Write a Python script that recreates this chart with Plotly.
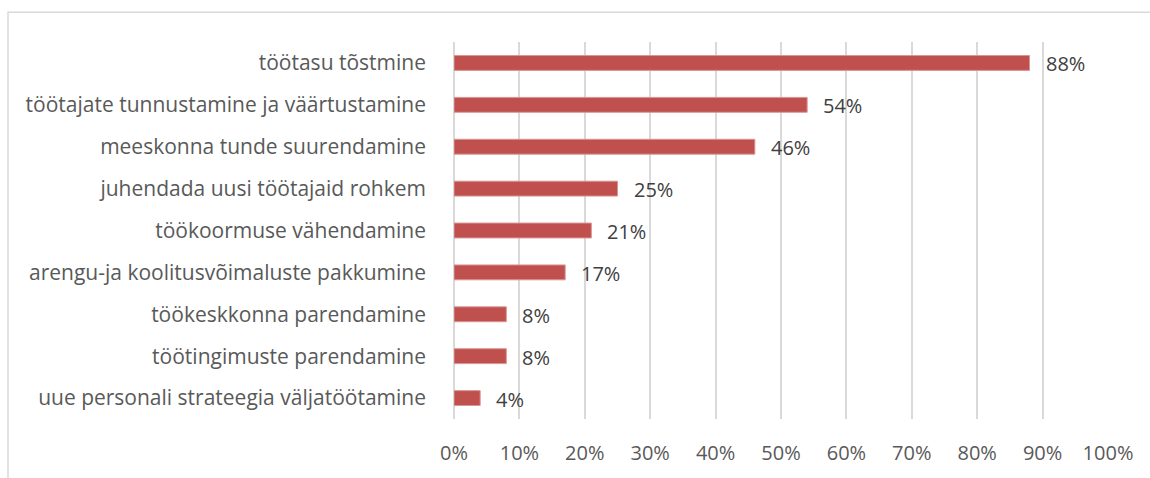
import plotly.graph_objects as go

# Survey answers, top to bottom as shown
categories = [
    "töötasu tõstmine",
    "töötajate tunnustamine ja väärtustamine",
    "meeskonna tunde suurendamine",
    "juhendada uusi töötajaid rohkem",
    "töökoormuse vähendamine",
    "arengu-ja koolitusvõimaluste pakkumine",
    "töökeskkonna parendamine",
    "töötingimuste parendamine",
    "uue personali strateegia väljatöötamine",
]
values = [0.88, 0.54, 0.46, 0.25, 0.21, 0.17, 0.08, 0.08, 0.04]
x_ticks = [0, 0.1, 0.2, 0.3, 0.4, 0.5, 0.6, 0.7, 0.8, 0.9, 1.0]
x_tick_labels = ["0%", "10%", "20%", "30%", "40%", "50%", "60%", "70%", "80%", "90%", "100%"]

W, H = 1150, 478
ML, MR, MT, MB = 454, 42, 42, 56
FONT = "Open Sans, sans-serif"
BAR = "#C0504D"
GRID = "#D9D9D9"

fig = go.Figure(
    go.Bar(
        x=values,
        y=categories,
        orientation="h",
        marker=dict(color=BAR, line=dict(color="#D99594", width=1)),
        hoverinfo="skip",
    )
)

# Value labels to the right of each bar
for c, v in zip(categories, values):
    fig.add_annotation(
        x=v, y=c, xref="x", yref="y",
        text=f"{round(v * 100)}%",
        showarrow=False, xanchor="left", yanchor="middle",
        xshift=14, yshift=-1,
        font=dict(family=FONT, size=20, color="#404040"),
    )

# Chart frame (only top and left edges fall inside the view)
pw, ph = W - ML - MR, H - MT - MB
fig.add_shape(
    type="rect", xref="paper", yref="paper",
    x0=(8 - ML) / pw, x1=(W + 5 - ML) / pw,
    y0=(H - MB - (H + 5)) / ph, y1=(H - MB - 12) / ph,
    line=dict(color="#D9D9D9", width=1.5), fillcolor="rgba(0,0,0,0)",
    layer="below",
)

fig.update_layout(
    width=W, height=H,
    margin=dict(l=ML, r=MR, t=MT, b=MB, pad=0),
    paper_bgcolor="white", plot_bgcolor="white",
    bargap=0.645,
    showlegend=False,
    font=dict(family=FONT, size=20, color="#595959"),
    xaxis=dict(
        range=[0, 1.0], tickvals=x_ticks, ticktext=x_tick_labels,
        showgrid=True, gridcolor=GRID, gridwidth=1.5,
        zeroline=True, zerolinecolor=GRID, zerolinewidth=1.5,
        showline=False, ticks="", ticklabelstandoff=20,
        tickfont=dict(family=FONT, size=20, color="#595959"),
        fixedrange=True,
    ),
    yaxis=dict(
        categoryorder="array", categoryarray=categories[::-1],
        showgrid=False, zeroline=False, showline=False, ticks="",
        ticklabelstandoff=27,
        tickfont=dict(family=FONT, size=21, color="#595959"),
        fixedrange=True,
    ),
)

fig.write_html("out.html")
